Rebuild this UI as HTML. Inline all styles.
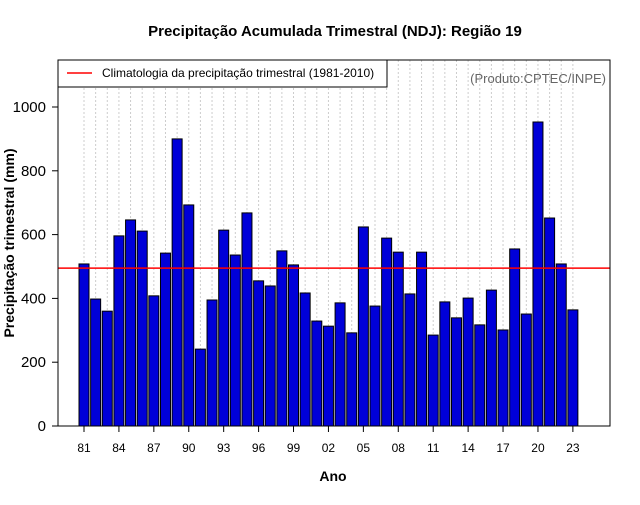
<!DOCTYPE html>
<html><head><meta charset="utf-8"><style>
body{margin:0;background:#fff;}
svg text{font-family:"Liberation Sans",sans-serif;}
</style></head><body>
<svg id="chart" width="640" height="500" xmlns="http://www.w3.org/2000/svg">
<rect width="640" height="500" fill="#fff"/>
<text x="335" y="36" text-anchor="middle" font-size="15" font-weight="bold">Precipitação Acumulada Trimestral (NDJ): Região 19</text>
<g id="grid"></g>
<g id="bars"></g>
<g id="axes"></g>
<line id="clim" stroke="#ff0000" stroke-width="1.5"/>
<rect x="58" y="60" width="552" height="366" fill="none" stroke="#000"/>
<g>
<rect x="58" y="60" width="329" height="27" fill="#fff" stroke="#000"/>
<line x1="67" y1="73" x2="92" y2="73" stroke="#ff0000" stroke-width="1.5"/>
<text x="102" y="77" font-size="12">Climatologia da precipitação trimestral (1981-2010)</text>
</g>
<text x="606" y="83" text-anchor="end" font-size="13" fill="#666">(Produto:CPTEC/INPE)</text>
<text x="333" y="481" text-anchor="middle" font-size="14" font-weight="bold">Ano</text>
<text transform="translate(14,243) rotate(-90)" text-anchor="middle" font-size="14" font-weight="bold">Precipitação trimestral (mm)</text>
</svg>
<script>
const years=[1981,1982,1983,1984,1985,1986,1987,1988,1989,1990,1991,1992,1993,1994,1995,1996,1997,1998,1999,2000,2001,2002,2003,2004,2005,2006,2007,2008,2009,2010,2011,2012,2013,2014,2015,2016,2017,2018,2019,2020,2021,2022,2023];
const values=[508,398,360,596,646,611,408,542,900,693,241,395,614,536,668,455,439,549,505,417,329,313,386,292,624,376,589,545,414,545,285,389,339,401,317,426,301,555,351,953,652,508,364];
const climatology=495;
const yTicks=[0,200,400,600,800,1000];
const xTickYears=[1981,1984,1987,1990,1993,1996,1999,2002,2005,2008,2011,2014,2017,2020,2023];
const NS="http://www.w3.org/2000/svg";
const xs=y=>84+(y-1981)*11.64;
const ys=v=>426-v*0.319;
function mk(tag,attrs,parent){const e=document.createElementNS(NS,tag);for(const k in attrs)e.setAttribute(k,attrs[k]);document.getElementById(parent).appendChild(e);return e;}
years.forEach(y=>{
  const g=mk('line',{x1:xs(y),x2:xs(y),y1:60,y2:426,stroke:'#ccc','stroke-dasharray':'2,2'},'grid');
  
  
});
years.forEach((y,i)=>{
  const r=mk('rect',{x:xs(y)-5,y:ys(values[i]),width:10,height:426-ys(values[i]),fill:'#0000d8',stroke:'#000','stroke-width':1},'bars');
  
  
});
yTicks.forEach(t=>{
  const l=mk('line',{x1:52,x2:58,y1:ys(t),y2:ys(t),stroke:'#000'},'axes');
  
  
  const tx=mk('text',{x:46,y:ys(t)+5,'text-anchor':'end','font-size':15},'axes');
  tx.textContent=t;
  
  
});
xTickYears.forEach(y=>{
  const l=mk('line',{x1:xs(y),x2:xs(y),y1:426,y2:432,stroke:'#000'},'axes');
  
  
  const tx=mk('text',{x:xs(y),y:452,'text-anchor':'middle','font-size':12},'axes');
  tx.textContent=String(y).slice(2);
  
  
});
const c=document.getElementById('clim');
c.setAttribute('x1',58);c.setAttribute('x2',610);
c.setAttribute('y1',ys(climatology));c.setAttribute('y2',ys(climatology));
</script>
</body></html>
